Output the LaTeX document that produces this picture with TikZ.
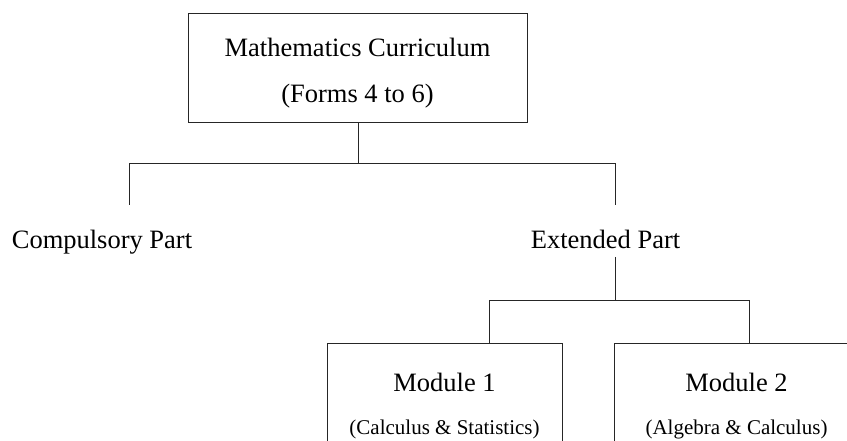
\documentclass[tikz,border=0pt]{standalone}
\usepackage{fontspec}
\setmainfont{Liberation Serif}
\begin{document}
\begin{tikzpicture}[x=1pt,y=-1pt,
  boxst/.style={draw=black!85,line width=1pt,rectangle,inner sep=0pt,anchor=north west},
  bigtext/.style={font=\fontsize{26.5}{30}\selectfont,anchor=base,inner sep=0pt},
  smalltext/.style={font=\fontsize{21}{24}\selectfont,anchor=base,inner sep=0pt},
  conn/.style={draw=black!85,line width=1pt}]
\useasboundingbox (0,0) rectangle (847,441);
\clip (0,0) rectangle (847,441);
% boxes
\node[boxst,minimum width=339pt,minimum height=109pt] (top) at (188,13) {};
\node[boxst,minimum width=235pt,minimum height=130pt] (m1) at (327,343) {};
\node[boxst,minimum width=245pt,minimum height=130pt] (m2) at (614,343) {};
% texts
\node[bigtext] (t1) at (357.5,57) {Mathematics Curriculum};
\node[bigtext] (t2) at (357.5,103) {(Forms 4 to 6)};
\node[bigtext] (cp) at (102,248.5) {Compulsory Part};
\node[bigtext] (ep) at (605.5,248.5) {Extended Part};
\node[bigtext] (m1a) at (444.5,391.5) {Module 1};
\node[smalltext] (m1b) at (444.5,434) {(Calculus \& Statistics)};
\node[bigtext] (m2a) at (736.5,391.5) {Module 2};
\node[smalltext] (m2b) at (736.5,434) {(Algebra \& Calculus)};
% junctions
\coordinate (j1) at (top.south |- 0,164);
\coordinate (jl) at (129,164);
\coordinate (jr) at (615,164);
\coordinate (cpt) at (129,205);
\coordinate (ept) at (615,205.5);
\coordinate (epb) at (615,257);
\coordinate (j2) at (615,300);
\coordinate (j2l) at (489,300);
\coordinate (j2r) at (749,300);
% connectors
\draw[conn] (top.south) -- (j1);
\draw[conn] (cpt) -- (jl) -- (jr) -- (ept);
\draw[conn] (epb) -- (j2);
\draw[conn] (j2l |- m1.north) -- (j2l) -- (j2r) -- (j2r |- m2.north);
\end{tikzpicture}
\end{document}
